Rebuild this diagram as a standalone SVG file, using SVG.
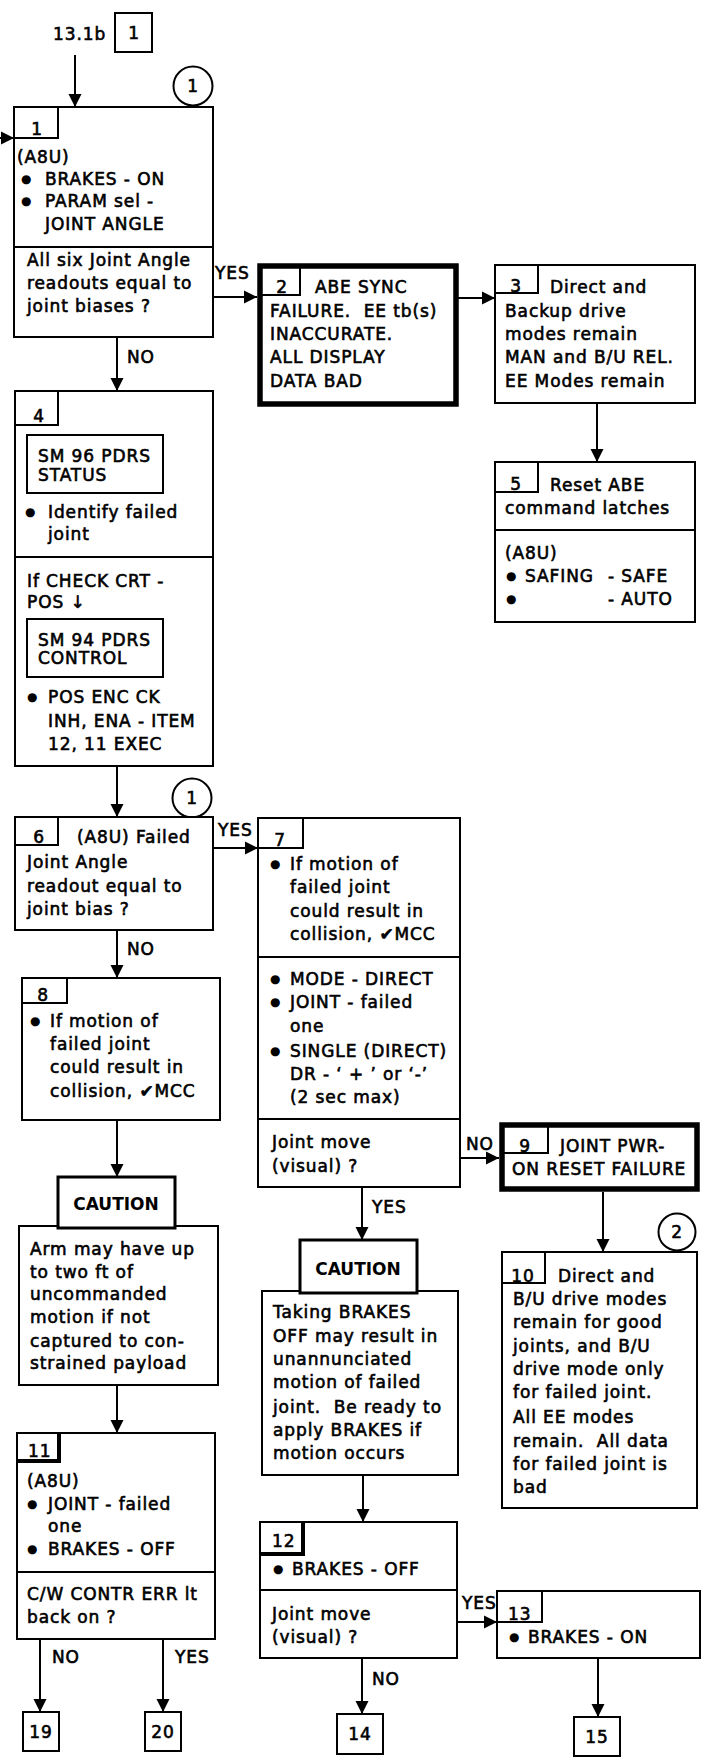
<svg xmlns="http://www.w3.org/2000/svg" width="702" height="1758" viewBox="0 0 702 1758">
<defs>
<marker id="ah" viewBox="0 0 12 12" markerWidth="13" markerHeight="14" refX="12" refY="6" orient="auto" markerUnits="userSpaceOnUse"><path d="M0,0 L12,6 L0,12 z" fill="#000"/></marker>
<style>
.t{font-family:"DejaVu Sans","Liberation Sans",sans-serif;font-size:17px;fill:#000;stroke:#000;stroke-width:0.6;letter-spacing:0.9px;white-space:pre}
.bu{font-family:"DejaVu Sans",sans-serif;font-size:12px;fill:#000}
.cau{font-family:"DejaVu Sans","Liberation Sans",sans-serif;font-size:17px;font-weight:bold;fill:#000}
.bx{fill:#fff;stroke:#000;stroke-width:2}
.thk{fill:#fff;stroke:#000;stroke-width:5.5}
.ch{fill:#fff;stroke:#000;stroke-width:3}
.ln{fill:none;stroke:#000;stroke-width:2}
.sh{fill:none;stroke:#000;stroke-width:4}
.c{text-anchor:middle}
</style>
</defs>
<rect x="0" y="0" width="702" height="1758" fill="#fff"/>

<g id="connectors">
<line class="ln" x1="75" y1="55" x2="75" y2="107" marker-end="url(#ah)"/>
<line class="ln" x1="0" y1="138" x2="14" y2="138" marker-end="url(#ah)"/>
<line class="ln" x1="213" y1="297" x2="257" y2="297" marker-end="url(#ah)"/>
<line class="ln" x1="117" y1="337" x2="117" y2="391" marker-end="url(#ah)"/>
<line class="ln" x1="458" y1="298" x2="495" y2="298" marker-end="url(#ah)"/>
<line class="ln" x1="597" y1="403" x2="597" y2="462" marker-end="url(#ah)"/>
<line class="ln" x1="117" y1="766" x2="117" y2="817" marker-end="url(#ah)"/>
<line class="ln" x1="213" y1="848" x2="258" y2="848" marker-end="url(#ah)"/>
<line class="ln" x1="117" y1="930" x2="117" y2="978" marker-end="url(#ah)"/>
<line class="ln" x1="117" y1="1120" x2="117" y2="1177" marker-end="url(#ah)"/>
<line class="ln" x1="117" y1="1385" x2="117" y2="1433" marker-end="url(#ah)"/>
<line class="ln" x1="40" y1="1639" x2="40" y2="1712" marker-end="url(#ah)"/>
<line class="ln" x1="163" y1="1639" x2="163" y2="1712" marker-end="url(#ah)"/>
<line class="ln" x1="460" y1="1158" x2="499" y2="1158" marker-end="url(#ah)"/>
<line class="ln" x1="362" y1="1187" x2="362" y2="1240" marker-end="url(#ah)"/>
<line class="ln" x1="603" y1="1192" x2="603" y2="1252" marker-end="url(#ah)"/>
<line class="ln" x1="363" y1="1475" x2="363" y2="1522" marker-end="url(#ah)"/>
<line class="ln" x1="457" y1="1622" x2="497" y2="1622" marker-end="url(#ah)"/>
<line class="ln" x1="362" y1="1658" x2="362" y2="1714" marker-end="url(#ah)"/>
<line class="ln" x1="598" y1="1658" x2="598" y2="1717" marker-end="url(#ah)"/>
<text class="t" x="215" y="279">YES</text>
<text class="t" x="127" y="363">NO</text>
<text class="t" x="218" y="836">YES</text>
<text class="t" x="127" y="955">NO</text>
<text class="t" x="466" y="1150">NO</text>
<text class="t" x="372" y="1213">YES</text>
<text class="t" x="462" y="1609">YES</text>
<text class="t" x="372" y="1685">NO</text>
<text class="t" x="52" y="1663">NO</text>
<text class="t" x="175" y="1663">YES</text>
</g>

<g id="entry">
<text class="t" x="53" y="40">13.1b</text>
<rect class="bx" x="115" y="13" width="37" height="39"/>
<text class="t c" x="134" y="39">1</text>
</g>

<g id="circle1a"><circle class="bx" cx="193" cy="86" r="19.5"/><text class="t c" x="193" y="92">1</text></g>
<g id="circle1b"><circle class="bx" cx="192" cy="798" r="19.5"/><text class="t c" x="192" y="804">1</text></g>
<g id="circle2"><circle class="bx" cx="677" cy="1232" r="18.5"/><text class="t c" x="677" y="1238">2</text></g>

<g id="node1">
<rect class="bx" x="14" y="107" width="199" height="230"/>
<line class="ln" x1="14" y1="247" x2="213" y2="247"/>
<path class="ln" d="M58,107 V138 H14"/>
<text class="t c" x="37" y="135">1</text>
<text class="t" x="17" y="163">(A8U)</text>
<text class="bu" x="21" y="183">●</text><text class="t" x="45" y="185">BRAKES - ON</text>
<text class="bu" x="21" y="205">●</text><text class="t" x="45" y="207">PARAM sel -</text>
<text class="t" x="45" y="230">JOINT ANGLE</text>
<text class="t" x="27" y="266">All six Joint Angle</text>
<text class="t" x="27" y="289">readouts equal to</text>
<text class="t" x="27" y="312">joint biases ?</text>
</g>

<g id="node2">
<rect class="thk" x="260" y="266" width="196" height="138"/>
<path class="ln" d="M300,266 V295 H260"/>
<text class="t c" x="282" y="293">2</text>
<text class="t" x="315" y="293">ABE SYNC</text>
<text class="t" x="270" y="317">FAILURE.  EE tb(s)</text>
<text class="t" x="270" y="340">INACCURATE.</text>
<text class="t" x="270" y="363">ALL DISPLAY</text>
<text class="t" x="270" y="387">DATA BAD</text>
</g>

<g id="node3">
<rect class="bx" x="495" y="265" width="200" height="138"/>
<path class="ln" d="M538,265 V293 H495"/>
<text class="t c" x="516" y="292">3</text>
<text class="t" x="550" y="293">Direct and</text>
<text class="t" x="505" y="317">Backup drive</text>
<text class="t" x="505" y="340">modes remain</text>
<text class="t" x="505" y="363">MAN and B/U REL.</text>
<text class="t" x="505" y="387">EE Modes remain</text>
</g>

<g id="node5">
<rect class="bx" x="495" y="462" width="200" height="160"/>
<line class="ln" x1="495" y1="530" x2="695" y2="530"/>
<path class="ln" d="M538,462 V492 H495"/>
<text class="t c" x="516" y="490">5</text>
<text class="t" x="550" y="491">Reset ABE</text>
<text class="t" x="505" y="514">command latches</text>
<text class="t" x="505" y="559">(A8U)</text>
<text class="bu" x="506" y="580">●</text><text class="t" x="525" y="582">SAFING</text><text class="t" x="608" y="582">- SAFE</text>
<text class="bu" x="506" y="603">●</text><text class="t" x="608" y="605">- AUTO</text>
</g>

<g id="node4">
<rect class="bx" x="15" y="391" width="198" height="375"/>
<line class="ln" x1="15" y1="557" x2="213" y2="557"/>
<path class="ln" d="M58,391 V425 H15"/>
<text class="t c" x="39" y="422">4</text>
<rect class="bx" x="27" y="435" width="136" height="58"/>
<text class="t" x="38" y="462">SM 96 PDRS</text>
<text class="t" x="38" y="481">STATUS</text>
<text class="bu" x="25" y="516">●</text><text class="t" x="48" y="518">Identify failed</text>
<text class="t" x="48" y="540">joint</text>
<text class="t" x="27" y="587">If CHECK CRT -</text>
<text class="t" x="27" y="608">POS ↓</text>
<rect class="bx" x="27" y="619" width="136" height="58"/>
<text class="t" x="38" y="646">SM 94 PDRS</text>
<text class="t" x="38" y="664">CONTROL</text>
<text class="bu" x="27" y="701">●</text><text class="t" x="48" y="703">POS ENC CK</text>
<text class="t" x="48" y="727">INH, ENA - ITEM</text>
<text class="t" x="48" y="750">12, 11 EXEC</text>
</g>

<g id="node6">
<rect class="bx" x="15" y="817" width="198" height="113"/>
<path class="ln" d="M58,817 V845 H15"/>
<text class="t c" x="39" y="843">6</text>
<text class="t" x="77" y="843">(A8U) Failed</text>
<text class="t" x="27" y="868">Joint Angle</text>
<text class="t" x="27" y="892">readout equal to</text>
<text class="t" x="27" y="915">joint bias ?</text>
</g>

<g id="node8">
<rect class="bx" x="22" y="978" width="198" height="142"/>
<path class="ln" d="M67,978 V1003 H22"/>
<text class="t c" x="43" y="1001">8</text>
<text class="bu" x="30" y="1025">●</text><text class="t" x="50" y="1027">If motion of</text>
<text class="t" x="50" y="1050">failed joint</text>
<text class="t" x="50" y="1073">could result in</text>
<text class="t" x="50" y="1097">collision, ✔MCC</text>
</g>

<g id="caution1">
<rect class="bx" x="19" y="1226" width="199" height="159"/>
<rect class="ch" x="58" y="1177" width="117" height="51"/>
<text class="cau c" x="116" y="1210">CAUTION</text>
<text class="t" x="30" y="1255">Arm may have up</text>
<text class="t" x="30" y="1278">to two ft of</text>
<text class="t" x="30" y="1300">uncommanded</text>
<text class="t" x="30" y="1323">motion if not</text>
<text class="t" x="30" y="1347">captured to con-</text>
<text class="t" x="30" y="1369">strained payload</text>
</g>

<g id="node11">
<rect class="bx" x="17" y="1433" width="198" height="206"/>
<line class="ln" x1="17" y1="1572" x2="215" y2="1572"/>
<path class="sh" d="M59,1433 V1461 H17"/>
<text class="t" x="28" y="1457">11</text>
<text class="t" x="27" y="1487">(A8U)</text>
<text class="bu" x="27" y="1508">●</text><text class="t" x="48" y="1510">JOINT - failed</text>
<text class="t" x="48" y="1532">one</text>
<text class="bu" x="27" y="1553">●</text><text class="t" x="48" y="1555">BRAKES - OFF</text>
<text class="t" x="27" y="1600">C/W CONTR ERR lt</text>
<text class="t" x="27" y="1623">back on ?</text>
</g>

<g id="node19"><rect class="bx" x="23" y="1712" width="36" height="39"/><text class="t c" x="41" y="1738">19</text></g>
<g id="node20"><rect class="bx" x="145" y="1712" width="36" height="39"/><text class="t c" x="163" y="1738">20</text></g>

<g id="node7">
<rect class="bx" x="258" y="818" width="202" height="369"/>
<line class="ln" x1="258" y1="957" x2="460" y2="957"/>
<line class="ln" x1="258" y1="1119" x2="460" y2="1119"/>
<path class="ln" d="M303,818 V848 H258"/>
<text class="t c" x="280" y="846">7</text>
<text class="bu" x="270" y="868">●</text><text class="t" x="290" y="870">If motion of</text>
<text class="t" x="290" y="893">failed joint</text>
<text class="t" x="290" y="917">could result in</text>
<text class="t" x="290" y="940">collision, ✔MCC</text>
<text class="bu" x="270" y="983">●</text><text class="t" x="290" y="985">MODE - DIRECT</text>
<text class="bu" x="270" y="1006">●</text><text class="t" x="290" y="1008">JOINT - failed</text>
<text class="t" x="290" y="1032">one</text>
<text class="bu" x="270" y="1055">●</text><text class="t" x="290" y="1057">SINGLE (DIRECT)</text>
<text class="t" x="290" y="1080">DR - ‘ + ’ or ‘-’</text>
<text class="t" x="290" y="1103">(2 sec max)</text>
<text class="t" x="272" y="1148">Joint move</text>
<text class="t" x="272" y="1172">(visual) ?</text>
</g>

<g id="node9">
<rect class="thk" x="502" y="1125" width="195" height="64"/>
<path class="ln" d="M548,1125 V1153 H502"/>
<text class="t c" x="525" y="1152">9</text>
<text class="t" x="560" y="1152">JOINT PWR-</text>
<text class="t" x="512" y="1175">ON RESET FAILURE</text>
</g>

<g id="node10">
<rect class="bx" x="502" y="1252" width="195" height="256"/>
<path class="ln" d="M545,1252 V1283 H502"/>
<text class="t c" x="523" y="1282">10</text>
<text class="t" x="558" y="1282">Direct and</text>
<text class="t" x="513" y="1305">B/U drive modes</text>
<text class="t" x="513" y="1328">remain for good</text>
<text class="t" x="513" y="1352">joints, and B/U</text>
<text class="t" x="513" y="1375">drive mode only</text>
<text class="t" x="513" y="1398">for failed joint.</text>
<text class="t" x="513" y="1423">All EE modes</text>
<text class="t" x="513" y="1447">remain.  All data</text>
<text class="t" x="513" y="1470">for failed joint is</text>
<text class="t" x="513" y="1493">bad</text>
</g>

<g id="caution2">
<rect class="bx" x="262" y="1291" width="196" height="184"/>
<rect class="ch" x="300" y="1240" width="117" height="53"/>
<text class="cau c" x="358" y="1275">CAUTION</text>
<text class="t" x="273" y="1318">Taking BRAKES</text>
<text class="t" x="273" y="1342">OFF may result in</text>
<text class="t" x="273" y="1365">unannunciated</text>
<text class="t" x="273" y="1388">motion of failed</text>
<text class="t" x="273" y="1413">joint.  Be ready to</text>
<text class="t" x="273" y="1436">apply BRAKES if</text>
<text class="t" x="273" y="1459">motion occurs</text>
</g>

<g id="node12">
<rect class="bx" x="260" y="1522" width="197" height="136"/>
<line class="ln" x1="260" y1="1590" x2="457" y2="1590"/>
<path class="sh" d="M303,1522 V1554 H260"/>
<text class="t" x="272" y="1547">12</text>
<text class="bu" x="273" y="1573">●</text><text class="t" x="292" y="1575">BRAKES - OFF</text>
<text class="t" x="272" y="1620">Joint move</text>
<text class="t" x="272" y="1643">(visual) ?</text>
</g>

<g id="node13">
<rect class="bx" x="497" y="1591" width="203" height="67"/>
<path class="ln" d="M542,1591 V1622 H497"/>
<text class="t" x="508" y="1620">13</text>
<text class="bu" x="509" y="1641">●</text><text class="t" x="528" y="1643">BRAKES - ON</text>
</g>

<g id="node14"><rect class="bx" x="337" y="1714" width="46" height="40"/><text class="t c" x="360" y="1740">14</text></g>
<g id="node15"><rect class="bx" x="574" y="1717" width="46" height="39"/><text class="t c" x="597" y="1743">15</text></g>
</svg>
